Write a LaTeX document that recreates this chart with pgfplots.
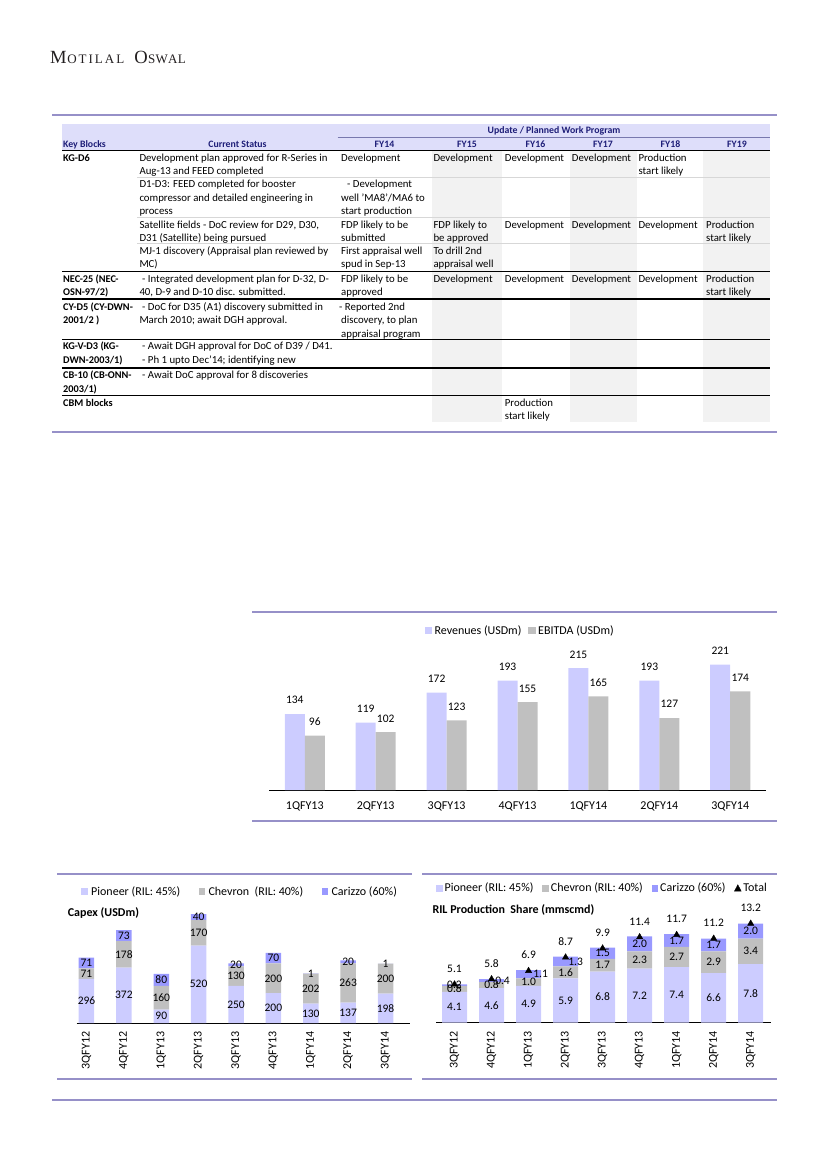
\documentclass[border=0pt]{standalone}
\usepackage{fontspec}
\setmainfont{Carlito}
\newfontfamily\hdrfont{Liberation Serif}
\usepackage{pgfplots}
\pgfplotsset{compat=1.18}
\usepackage{pgfplotstable}

\definecolor{pion}{RGB}{204,204,255}
\definecolor{chev}{RGB}{192,192,192}
\definecolor{cariz}{RGB}{153,153,255}
\definecolor{rulec}{RGB}{150,144,200}
\definecolor{hdrfill}{RGB}{222,222,250}
\definecolor{graycol}{RGB}{242,242,242}
\definecolor{sepc}{RGB}{215,215,215}
\definecolor{navy}{RGB}{30,30,120}
\definecolor{hdrc}{RGB}{35,31,32}

\pgfplotstableread{
x rev ebitda
0 134 96
1 119 102
2 172 123
3 193 155
4 215 165
5 193 127
6 221 174
}\revdata

\pgfplotstableread{
x p c z
0 296 71 71
1 372 178 73
2 90 160 80
3 520 170 40
4 250 130 20
5 200 200 70
6 130 202 1
7 137 263 20
8 198 200 1
}\capexdata

\pgfplotstableread{
x p c z t zs
0 4.1 0.8 0.2 5.1 0
1 4.6 0.8 0.4 5.8 11
2 4.9 1.0 1.1 6.9 12
3 5.9 1.6 1.3 8.7 10
4 6.8 1.7 1.5 9.9 0
5 7.2 2.3 2.0 11.4 0
6 7.4 2.7 1.7 11.7 0
7 6.6 2.9 1.7 11.2 0
8 7.8 3.4 2.0 13.2 0
}\proddata

\newcommand\fb{\fontsize{10.8}{13}\selectfont}
\newcommand\fh{\fontsize{9.8}{12}\selectfont\bfseries}
\newcommand\fk{\fontsize{10.3}{12}\selectfont\bfseries}
\newcommand\fl{\fontsize{11.5}{13}\selectfont}
\newcommand\fc{\fontsize{12}{14}\selectfont}

\newcommand\TX[3]{\node[anchor=base west,inner sep=0pt,font=\fb] at (#1,#2) {#3};}
\newcommand\KB[3]{\node[anchor=base west,inner sep=0pt,font=\fk] at (#1,#2) {#3};}
\newcommand\HD[3]{\node[anchor=base,inner sep=0pt,font=\fh,text=navy] at (#1,#2) {#3};}

\pgfplotsset{
  /pgf/number format/assume math mode=true,
  chartbase/.style={scale only axis, clip=false, anchor=south west,
    axis x line*=bottom, axis y line=none, ytick=\empty, major tick length=0pt,
    x axis line style={black,line width=0.9pt},
    tick label style={font=\fc}, ymin=0},
  revgeom/.style={at={(269.3pt,-790pt)}, width=496.4pt, height=150pt,
    xmin=-0.5, xmax=6.5, ymax=264.6},
  capexgeom/.style={at={(76.7pt,-1023pt)}, width=333.3pt, height=130pt,
    xmin=-0.262, xmax=8.655, ymax=872.5},
  prodgeom/.style={at={(436pt,-1022.5pt)}, width=334.7pt, height=130pt,
    xmin=-0.5, xmax=8.54, ymax=17.333},
  qlabels/.style={xtick={0,...,8},
    xticklabels={3QFY12,4QFY12,1QFY13,2QFY13,3QFY13,4QFY13,1QFY14,2QFY14,3QFY14},
    xticklabel style={rotate=90, anchor=east, inner xsep=8.5pt}},
  sqA/.style={legend image code/.code={\fill[##1] (0pt,-3.7pt) rectangle (7.4pt,3.7pt);}},
  sqB/.style={legend image code/.code={\fill[##1] (0pt,-3.35pt) rectangle (6.7pt,3.35pt);}},
  lab/.style={draw=none, nodes near coords, point meta=explicit,
    nodes near coords style={anchor=center, font=\fl, text=black}},
  labd/.style={draw=none, point meta=explicit,
    nodes near coords={\pgfmathprintnumber[fixed,fixed zerofill,precision=1]{\pgfplotspointmeta}},
    nodes near coords style={anchor=center, font=\fl, text=black}},
}

\begin{document}
\begin{tikzpicture}
\useasboundingbox (0,0) rectangle (827pt,-1169pt);
\begin{scope}[x=1pt,y=-1pt]
% header
\node[anchor=base west, inner sep=0pt, text=hdrc] at (50,64) {\hdrfont\fontsize{18.6}{20}\selectfont M\kern0.6pt\fontsize{13}{14}\selectfont O\kern2pt T\kern2pt I\kern2pt L\kern2pt A\kern2pt L\hspace{10pt}\fontsize{18.6}{20}\selectfont O\kern0.3pt\fontsize{13}{14}\selectfont S\kern0.3pt W\kern0.3pt A\kern0.3pt L};
% table
\draw[rulec, line width=1.8pt] (52,115.3) -- (776.7,115.3);
\fill[hdrfill] (62,123.7) rectangle (770,150.3);
\fill[graycol] (432,150.3) rectangle (501.5,421.7);
\fill[graycol] (569.5,150.3) rectangle (637,421.7);
\fill[graycol] (703,150.3) rectangle (770,421.7);
\draw[navy!60, line width=0.6pt] (337.5,137.3) -- (770,137.3);
\draw[black, line width=1.1pt] (62,150.3) -- (770,150.3);
\foreach \yy in {177.5,217.5,243.7} \draw[sepc, line width=0.9pt] (137,\yy) -- (770,\yy);
\foreach \yy in {271.3,299,339.3,368,395.7} \draw[black, line width=1.1pt] (62,\yy) -- (770,\yy);
\draw[rulec, line width=1.8pt] (52,431.7) -- (776.7,431.7);
\HD{554}{134}{Update / Planned Work Program}
\node[anchor=base west,inner sep=0pt,font=\fh,text=navy] at (63,148) {Key Blocks};
\HD{237.5}{148}{Current Status}
\HD{384.5}{147.5}{FY14}\HD{467}{147.5}{FY15}\HD{535.5}{147.5}{FY16}
\HD{603}{147.5}{FY17}\HD{670.5}{147.5}{FY18}\HD{737}{147.5}{FY19}
% KG-D6
\KB{63}{161.5}{KG-D6}
\TX{139.3}{161.5}{Development plan approved for R-Series in}
\TX{139.3}{174.5}{Aug-13 and FEED completed}
\TX{341}{161.5}{Development}\TX{433.3}{161.5}{Development}\TX{504.7}{161.5}{Development}
\TX{571.7}{161.5}{Development}\TX{638.3}{161.5}{Production}\TX{638.3}{174.5}{start likely}
\TX{139.3}{188}{D1-D3: FEED completed for booster}
\TX{139.3}{201.3}{compressor and detailed engineering in}
\TX{139.3}{214.5}{process}
\TX{347}{188}{- Development}\TX{341}{201.3}{well 'MA8'/MA6 to}\TX{341}{214.5}{start production}
\TX{139.3}{228}{Satellite fields - DoC review for D29, D30,}
\TX{139.3}{241}{D31 (Satellite) being pursued}
\TX{341}{228}{FDP likely to be}\TX{341}{241}{submitted}
\TX{433.3}{228}{FDP likely to}\TX{433.3}{241}{be approved}
\TX{504.7}{228}{Development}\TX{571.7}{228}{Development}\TX{638.3}{228}{Development}
\TX{706}{228}{Production}\TX{706}{241}{start likely}
\TX{139.3}{254}{MJ-1 discovery (Appraisal plan reviewed by}
\TX{139.3}{267.5}{MC)}
\TX{341}{254}{First appraisal well}\TX{341}{267.5}{spud in Sep-13}
\TX{433.3}{254}{To drill 2nd}\TX{433.3}{267.5}{appraisal well}
% NEC-25
\KB{63}{282.5}{NEC-25 (NEC-}\KB{63}{295}{OSN-97/2)}
\TX{142}{282.5}{- Integrated development plan for D-32, D-}
\TX{139.3}{295}{40, D-9 and D-10 disc. submitted.}
\TX{341}{282.5}{FDP likely to be}\TX{341}{295}{approved}
\TX{433.3}{282.5}{Development}\TX{504.7}{282.5}{Development}\TX{571.7}{282.5}{Development}
\TX{638.3}{282.5}{Development}\TX{706}{282.5}{Production}\TX{706}{295}{start likely}
% CY-D5
\KB{63}{310}{CY-D5 (CY-DWN-}\KB{63}{323.5}{2001/2 )}
\TX{142}{310}{- DoC for D35 (A1) discovery submitted in}
\TX{139.3}{323.5}{March 2010; await DGH approval.}
\TX{339}{310}{- Reported 2nd}\TX{341}{323.5}{discovery, to plan}\TX{341}{337}{appraisal program}
% KG-V-D3
\KB{63}{349.5}{KG-V-D3 (KG-}\KB{63}{363}{DWN-2003/1)}
\TX{142}{349.5}{- Await DGH approval for DoC of D39 / D41.}
\TX{142}{363}{- Ph 1 upto Dec'14; identifying new}
% CB-10
\KB{63}{378.5}{CB-10 (CB-ONN-}\KB{63}{392.5}{2003/1)}
\TX{142}{378.5}{- Await DoC approval for 8 discoveries}
% CBM
\KB{63}{406}{CBM blocks}
\TX{504.7}{406}{Production}\TX{504.7}{419}{start likely}
% chart rules
\draw[rulec, line width=1.8pt] (252,612.3) -- (776.7,612.3);
\draw[rulec, line width=1.8pt] (252,820.7) -- (776.7,820.7);
\draw[rulec, line width=1.8pt] (57.3,874) -- (411.7,874);
\draw[rulec, line width=1.8pt] (57.3,1079) -- (411.7,1079);
\draw[rulec, line width=1.8pt] (422.3,874) -- (776.7,874);
\draw[rulec, line width=1.8pt] (422.3,1079) -- (776.7,1079);
\draw[rulec, line width=1.8pt] (52,1100) -- (776.7,1100);
% titles
\node[anchor=base west, inner sep=0pt, font=\fc\bfseries] at (67.7,916) {Capex (USDm)};
\node[anchor=base west, inner sep=0pt, font=\fc\bfseries] at (432.3,913) {RIL Production\ \ Share (mmscmd)};
\end{scope}

% ---------- Revenue / EBITDA ----------
\begin{axis}[chartbase, revgeom,
  ybar=0pt, bar width=20pt,
  xtick={0,...,6}, xticklabels={1QFY13,2QFY13,3QFY13,4QFY13,1QFY14,2QFY14,3QFY14},
  xticklabel style={yshift=-8pt},
  nodes near coords, nodes near coords style={font=\fl, text=black, yshift=6.5pt},
  legend columns=2,
  legend style={at={(0.3123,1.062)}, anchor=west, draw=none, fill=none, inner sep=0pt,
    font=\fc, nodes={inner sep=0pt, anchor=west},
    /tikz/every odd column/.style={column sep=2.6pt},
    /tikz/every even column/.style={column sep=6.7pt}},
]
\addplot[fill=pion, draw=none, sqA] table[x=x,y=rev] \revdata;
\addplot[fill=chev, draw=none, sqA] table[x=x,y=ebitda] \revdata;
\legend{Revenues (USDm),EBITDA (USDm)}
\end{axis}

% ---------- Capex ----------
\begin{axis}[chartbase, capexgeom, qlabels,
  ybar stacked, bar width=15.5pt,
  legend columns=3,
  legend style={at={(0.0129,1.01)}, anchor=west, draw=none, fill=none, inner sep=0pt,
    font=\fc, nodes={inner sep=0pt, anchor=west},
    /tikz/every odd column/.style={column sep=3.3pt},
    /tikz/every even column/.style={column sep=18.4pt}},
]
\addplot[fill=pion, draw=none, sqB] table[x=x,y=p] \capexdata;
\addplot[fill=chev, draw=none, sqB] table[x=x,y=c] \capexdata;
\addplot[fill=cariz, draw=none, sqB] table[x=x,y=z] \capexdata;
\legend{Pioneer (RIL: 45\%),Chevron\ \ (RIL: 40\%),Carizzo (60\%)}
\end{axis}
\begin{axis}[chartbase, capexgeom, hide axis]
\addplot[lab] table[x=x, y expr=\thisrow{p}/2, meta=p] \capexdata;
\addplot[lab] table[x=x, y expr=\thisrow{p}+\thisrow{c}/2, meta=c] \capexdata;
\addplot[lab] table[x=x, y expr=\thisrow{p}+\thisrow{c}+\thisrow{z}/2, meta=z] \capexdata;
\end{axis}

% ---------- Production ----------
\begin{axis}[chartbase, prodgeom, qlabels,
  ybar stacked, bar width=25pt,
  legend columns=4,
  legend style={at={(-0.001,1.032)}, anchor=west, draw=none, fill=none, inner sep=0pt,
    font=\fc, nodes={inner sep=0pt, anchor=west},
    /tikz/every odd column/.style={column sep=2pt},
    /tikz/every even column/.style={column sep=8.7pt}},
]
\addplot[fill=pion, draw=none, sqB] table[x=x,y=p] \proddata;
\addplot[fill=chev, draw=none, sqB] table[x=x,y=c] \proddata;
\addplot[fill=cariz, draw=none, sqB] table[x=x,y=z] \proddata;
\addlegendimage{black, legend image code/.code={\fill[black] (0pt,-2.8pt) -- (6.7pt,-2.8pt) -- (3.35pt,3.6pt) -- cycle;}}
\legend{Pioneer (RIL: 45\%),Chevron (RIL: 40\%),Carizzo (60\%),Total}
\end{axis}
\begin{axis}[chartbase, prodgeom, hide axis]
\addplot[labd] table[x=x, y expr=\thisrow{p}/2, meta=p] \proddata;
\addplot[labd] table[x=x, y expr=\thisrow{p}+\thisrow{c}/2, meta=c] \proddata;
\addplot[labd] table[x expr=\thisrow{x}+\thisrow{zs}/37.02, y expr=\thisrow{p}+\thisrow{c}+\thisrow{z}/2, meta=z] \proddata;
\addplot[only marks, mark=triangle*, mark size=3.6pt, black, point meta=explicit,
  nodes near coords={\pgfmathprintnumber[fixed,fixed zerofill,precision=1]{\pgfplotspointmeta}},
  nodes near coords style={font=\fl, text=black, yshift=8.2pt}]
  table[x=x, y=t, meta=t] \proddata;
\end{axis}
\end{tikzpicture}
\end{document}
